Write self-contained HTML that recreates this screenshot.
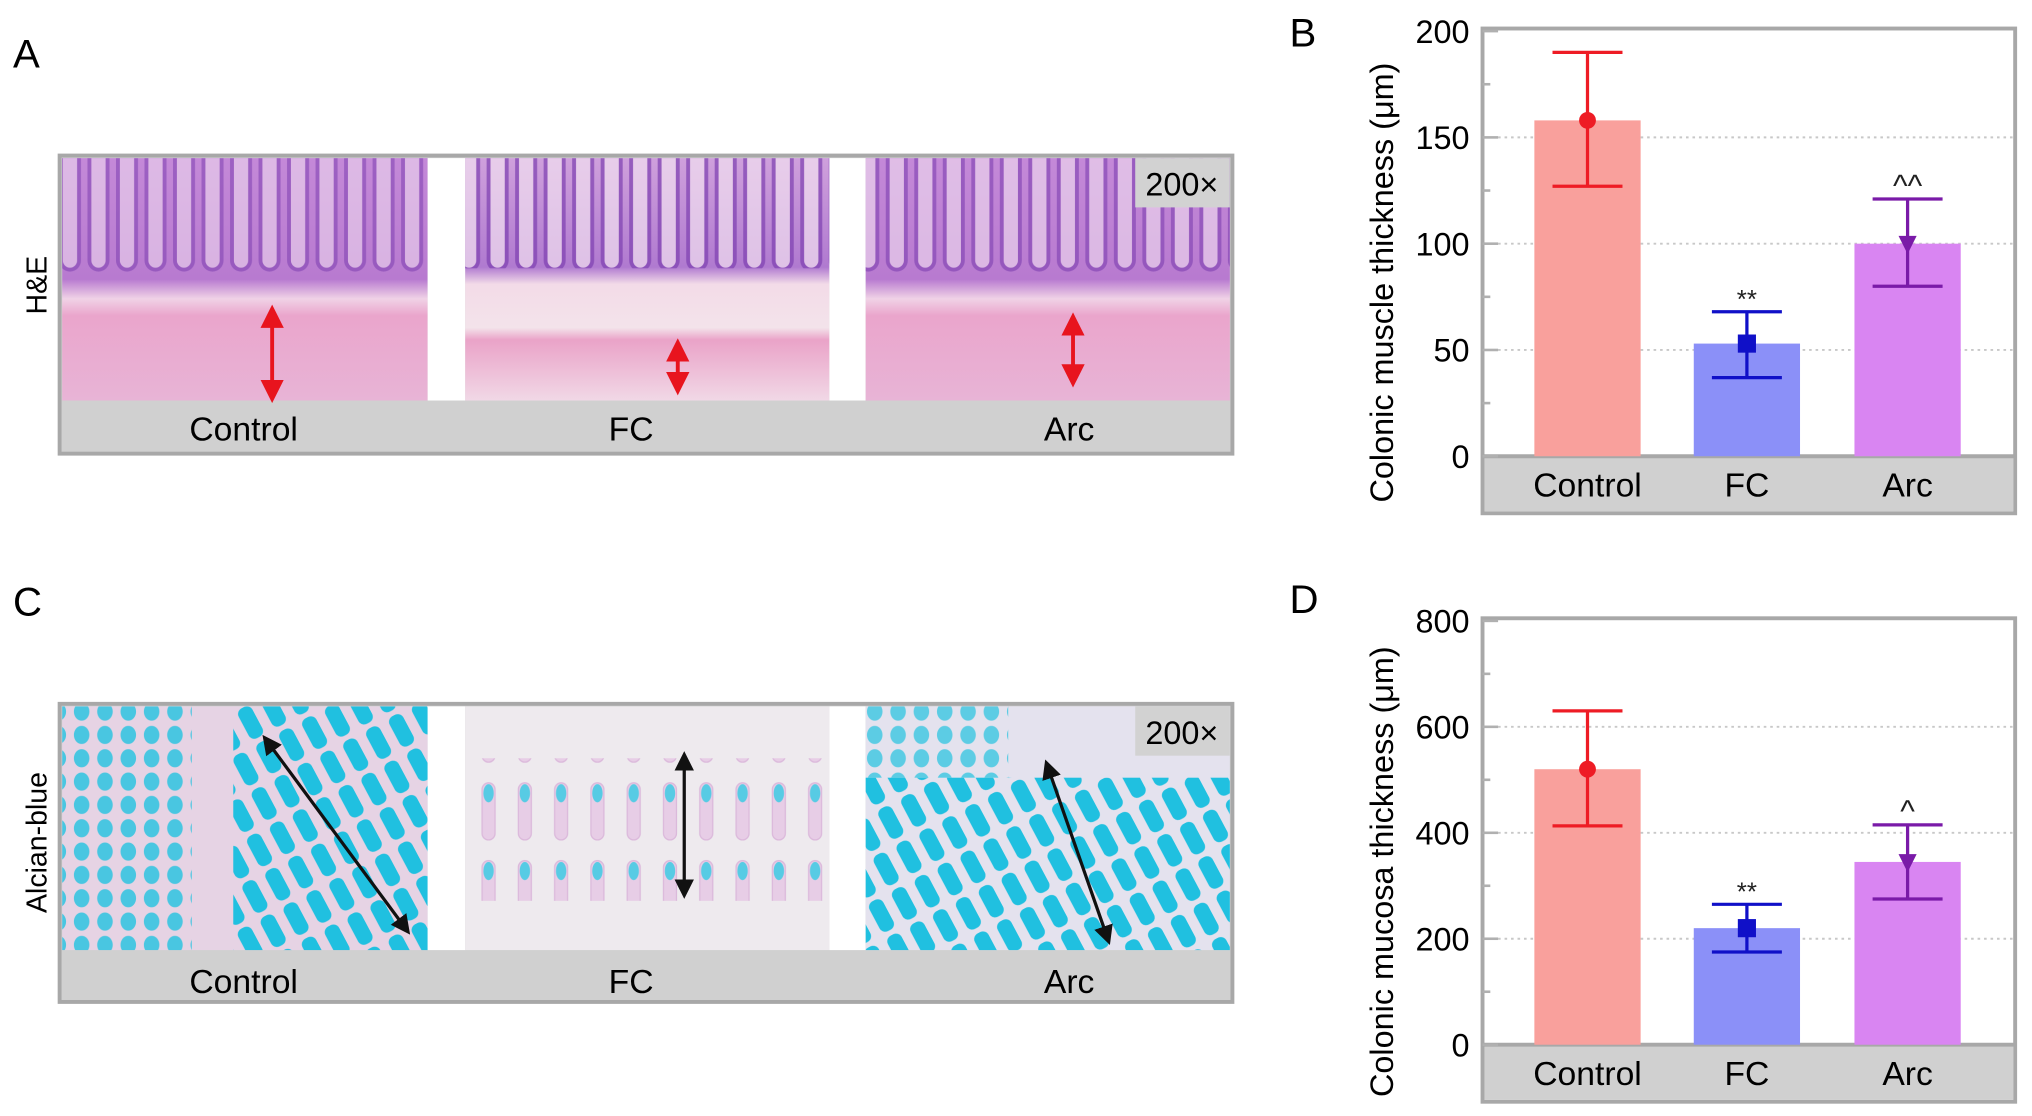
<!DOCTYPE html>
<html><head><meta charset="utf-8"><style>
html,body{margin:0;padding:0;background:#fff;}
svg{display:block;font-family:"Liberation Sans",Arial,sans-serif;}
</style></head><body>
<svg id="fig" width="2032" height="1116" viewBox="0 0 1568 861" preserveAspectRatio="none">
<defs>
<linearGradient id="heBg" x1="0" y1="0" x2="0" y2="1">
<stop offset="0" stop-color="#c489d8"/><stop offset="0.5" stop-color="#b87ad0"/><stop offset="0.58" stop-color="#f0d2e6"/><stop offset="0.65" stop-color="#eaa5cc"/><stop offset="1" stop-color="#e8b4d6"/></linearGradient>
<linearGradient id="heBg2" x1="0" y1="0" x2="0" y2="1">
<stop offset="0" stop-color="#cfa0dc"/><stop offset="0.45" stop-color="#b07ad0"/><stop offset="0.52" stop-color="#f3dbe8"/><stop offset="0.7" stop-color="#f3e3ea"/><stop offset="0.75" stop-color="#eaa3c8"/><stop offset="1" stop-color="#f1d8e6"/></linearGradient>
<pattern id="crypt" x="0" y="122" width="22" height="300" patternUnits="userSpaceOnUse">
<rect x="3" y="-10" width="14" height="96" rx="7" fill="#f2e0f0" stroke="#7d3fb0" stroke-width="3"/></pattern>
<pattern id="cyanDots" width="18" height="18" patternUnits="userSpaceOnUse">
<ellipse cx="9" cy="9" rx="6" ry="7" fill="#22c3e0"/></pattern>
<pattern id="cyanCols" width="20" height="30" patternUnits="userSpaceOnUse" patternTransform="rotate(-28)">
<rect x="3" y="0" width="12" height="26" rx="5" fill="#20c0e0"/></pattern>
<pattern id="cyanFaint" width="28" height="60" patternUnits="userSpaceOnUse">
<rect x="8" y="4" width="10" height="44" rx="5" fill="#e6c8e4" stroke="#d8b0d8"/><ellipse cx="13" cy="12" rx="4" ry="7" fill="#3cc6e2"/></pattern>
<marker id="arR" markerWidth="6" markerHeight="6" refX="3" refY="3" orient="auto-start-reverse"><path d="M0,0 L6,3 L0,6 z" fill="#e8141e"/></marker>
<marker id="arK" markerWidth="6" markerHeight="6" refX="3" refY="3" orient="auto-start-reverse"><path d="M0,0 L6,3 L0,6 z" fill="#111"/></marker>
</defs>

<text x="10" y="52" font-size="31">A</text>
<text transform="translate(36,220) rotate(-90)" font-size="22" text-anchor="middle">H&amp;E</text>
<g>
<rect x="46" y="120" width="905" height="230" fill="#d0d0d0" stroke="#a8a8a8" stroke-width="3"/>
<rect x="48" y="122" width="282" height="187" fill="url(#heBg)"/>
<rect x="48" y="122" width="282" height="100" fill="url(#crypt)" opacity="0.55"/>
<rect x="330" y="122" width="29" height="187" fill="#fff"/>
<rect x="359" y="122" width="281" height="187" fill="url(#heBg2)"/>
<rect x="359" y="122" width="281" height="85" fill="url(#crypt)" opacity="0.7"/>
<rect x="640" y="122" width="28" height="187" fill="#fff"/>
<rect x="668" y="122" width="281" height="187" fill="url(#heBg)"/>
<rect x="668" y="122" width="281" height="90" fill="url(#crypt)" opacity="0.6"/>
<line x1="210" y1="244" x2="210" y2="302" stroke="#e8141e" stroke-width="3" marker-start="url(#arR)" marker-end="url(#arR)"/>
<line x1="523" y1="270" x2="523" y2="296" stroke="#e8141e" stroke-width="3" marker-start="url(#arR)" marker-end="url(#arR)"/>
<line x1="828" y1="250" x2="828" y2="290" stroke="#e8141e" stroke-width="3" marker-start="url(#arR)" marker-end="url(#arR)"/>
<rect x="876" y="122" width="73" height="38" fill="#d2d2d2"/>
<text x="912" y="151" font-size="25" text-anchor="middle">200×</text>
<text x="188" y="340" font-size="26" text-anchor="middle">Control</text>
<text x="487" y="340" font-size="26" text-anchor="middle">FC</text>
<text x="825" y="340" font-size="26" text-anchor="middle">Arc</text>
</g>

<text x="10" y="475" font-size="31">C</text>
<text transform="translate(36,650) rotate(-90)" font-size="22" text-anchor="middle">Alcian-blue</text>
<g>
<rect x="46" y="543" width="905" height="230" fill="#d0d0d0" stroke="#a8a8a8" stroke-width="3"/>
<rect x="48" y="545" width="282" height="188" fill="#e6d3e4"/>
<rect x="48" y="545" width="100" height="188" fill="url(#cyanDots)" opacity="0.8"/>
<rect x="180" y="545" width="150" height="188" fill="url(#cyanCols)"/>
<rect x="330" y="545" width="29" height="188" fill="#fff"/>
<rect x="359" y="545" width="281" height="188" fill="#eeeaee"/>
<rect x="359" y="585" width="281" height="110" fill="url(#cyanFaint)" opacity="0.85"/>
<rect x="640" y="545" width="28" height="188" fill="#fff"/>
<rect x="668" y="545" width="281" height="188" fill="#e4e2ee"/>
<rect x="668" y="600" width="281" height="133" fill="url(#cyanCols)"/>
<rect x="668" y="545" width="110" height="55" fill="url(#cyanDots)" opacity="0.7"/>
<line x1="207" y1="573" x2="312" y2="715" stroke="#111" stroke-width="2.5" marker-start="url(#arK)" marker-end="url(#arK)"/>
<line x1="528" y1="587" x2="528" y2="686" stroke="#111" stroke-width="2.5" marker-start="url(#arK)" marker-end="url(#arK)"/>
<line x1="809" y1="593" x2="854" y2="722" stroke="#111" stroke-width="2.5" marker-start="url(#arK)" marker-end="url(#arK)"/>
<rect x="876" y="545" width="73" height="38" fill="#d2d2d2"/>
<text x="912" y="574" font-size="25" text-anchor="middle">200×</text>
<text x="188" y="766" font-size="26" text-anchor="middle">Control</text>
<text x="487" y="766" font-size="26" text-anchor="middle">FC</text>
<text x="825" y="766" font-size="26" text-anchor="middle">Arc</text>
</g>

<text x="995" y="36" font-size="31">B</text>
<text x="995" y="473" font-size="31">D</text>
<g id="chartB"></g>
<g id="chartD"></g>
</svg>
<script>
const categories = ["Control", "FC", "Arc"];
const muscleMeans = [158, 53, 100];
const muscleLow = [127, 37, 80];
const muscleHigh = [190, 68, 121];
const muscleTicks = [0, 50, 100, 150, 200];
const muscleSig = ["", "**", "^^"];
const mucosaMeans = [520, 220, 345];
const mucosaLow = [413, 175, 275];
const mucosaHigh = [630, 265, 415];
const mucosaTicks = [0, 200, 400, 600, 800];
const mucosaSig = ["", "**", "^"];

const NS = "http://www.w3.org/2000/svg";
const barFill = ["#f9a09c", "#8b90f8", "#d985f2"];
const markColor = ["#ee1c25", "#1010c8", "#7a1aa8"];
function mk(tag, attrs, parent) {
  const e = document.createElementNS(NS, tag);
  for (const k in attrs) e.setAttribute(k, attrs[k]);
  parent.appendChild(e);
  return e;
}
function drawChart(g, box, ticks, means, lows, highs, sig, title, prefix) {
  const yMax = ticks[ticks.length - 1];
  const y = v => box.y0 - (v / yMax) * (box.y0 - box.yTop);
  const bw = 82, centers = [box.x + 81, box.x + 204, box.x + 328];
  const frame = mk("rect", {x: box.x, y: box.yTop - 2, width: box.w, height: box.yBot - box.yTop + 2, fill: "#fff", stroke: "#a8a8a8", "stroke-width": 3}, g);
  
  
  const strip = mk("rect", {x: box.x + 1.5, y: box.y0, width: box.w - 3, height: box.yBot - box.y0 - 1.5, fill: "#d0d0d0"}, g);
  
  
  mk("line", {x1: box.x, x2: box.x + box.w, y1: box.y0, y2: box.y0, stroke: "#a8a8a8", "stroke-width": 3}, g);
  ticks.forEach((t, i) => {
    if (i > 0 && i < ticks.length - 1) {
      const gl = mk("line", {x1: box.x + 12, x2: box.x + box.w - 2, y1: y(t), y2: y(t), stroke: "#c8c8c8", "stroke-width": 1.5, "stroke-dasharray": "2,3"}, g);
      
      
    }
    mk("line", {x1: box.x, x2: box.x + 12, y1: y(t), y2: y(t), stroke: "#b0b0b0", "stroke-width": 2}, g);
    if (i < ticks.length - 1) {
      const mid = (t + ticks[i + 1]) / 2;
      mk("line", {x1: box.x, x2: box.x + 6, y1: y(mid), y2: y(mid), stroke: "#b0b0b0", "stroke-width": 2}, g);
    }
    const tl = mk("text", {x: box.x - 10, y: y(t) + 9, "font-size": 25, "text-anchor": "end"}, g);
    tl.textContent = t;
    
    
  });
  categories.forEach((c, i) => {
    const cx = centers[i];
    const bar = mk("rect", {x: cx - bw / 2, y: y(means[i]), width: bw, height: box.y0 - y(means[i]), fill: barFill[i]}, g);
    
    
    const col = markColor[i];
    const eb = mk("g", {stroke: col, "stroke-width": 2.5}, g);
    
    
    mk("line", {x1: cx, x2: cx, y1: y(lows[i]), y2: y(highs[i])}, eb);
    mk("line", {x1: cx - 27, x2: cx + 27, y1: y(lows[i]), y2: y(lows[i])}, eb);
    mk("line", {x1: cx - 27, x2: cx + 27, y1: y(highs[i]), y2: y(highs[i])}, eb);
    let m;
    const my = y(means[i]);
    if (i === 0) m = mk("circle", {cx: cx, cy: my, r: 6.5, fill: col}, g);
    else if (i === 1) m = mk("rect", {x: cx - 7, y: my - 7, width: 14, height: 14, fill: col}, g);
    else m = mk("polygon", {points: (cx - 7) + "," + (my - 6) + " " + (cx + 7) + "," + (my - 6) + " " + cx + "," + (my + 8), fill: col}, g);
    
    
    if (sig[i]) {
      const s = mk("text", {x: cx, y: y(highs[i]) + (sig[i] === "**" ? -3 : -2), "font-size": sig[i] === "**" ? 20 : 24, "text-anchor": "middle", fill: "#222"}, g);
      s.textContent = sig[i];
      
      
    }
    const cl = mk("text", {x: cx, y: box.y0 + 31, "font-size": 26, "text-anchor": "middle"}, g);
    cl.textContent = c;
    
    
  });
  const tt = mk("text", {transform: "translate(" + (box.x - 69) + "," + ((box.yTop + box.yBot) / 2 + 8) + ") rotate(-90)", "font-size": 25, "text-anchor": "middle"}, g);
  tt.textContent = title;
  
  
}
drawChart(document.getElementById("chartB"), {x: 1144, w: 411, yTop: 24, y0: 352, yBot: 396}, muscleTicks, muscleMeans, muscleLow, muscleHigh, muscleSig, "Colonic muscle thickness (μm)", "muscle");
drawChart(document.getElementById("chartD"), {x: 1144, w: 411, yTop: 479, y0: 806, yBot: 850}, mucosaTicks, mucosaMeans, mucosaLow, mucosaHigh, mucosaSig, "Colonic mucosa thickness (μm)", "mucosa");
</script>
</body></html>
